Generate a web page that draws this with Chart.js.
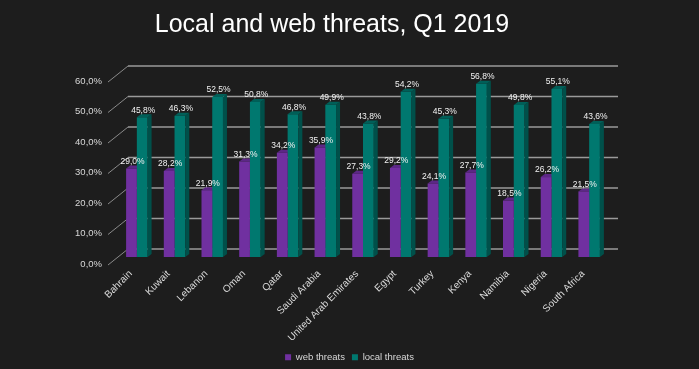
<!DOCTYPE html>
<html>
<head>
<meta charset="utf-8">
<script src="https://cdn.jsdelivr.net/npm/chart.js@4"></script>
<style>
  html,body{margin:0;padding:0;background:#1d1d1d;}
  #wrap{width:699px;height:369px;position:relative;}
</style>
</head>
<body>
<div id="wrap"><canvas id="c"></canvas></div>
<script>
// ── data ──
const countries = ['Bahrain','Kuwait','Lebanon','Oman','Qatar','Saudi Arabia','United Arab Emirates',
                   'Egypt','Turkey','Kenya','Namibia','Nigeria','South Africa'];
const webThreats   = [29.0, 28.2, 21.9, 31.3, 34.2, 35.9, 27.3, 29.2, 24.1, 27.7, 18.5, 26.2, 21.5];
const localThreats = [45.8, 46.3, 52.5, 50.8, 46.8, 49.9, 43.8, 54.2, 45.3, 56.8, 49.8, 55.1, 43.6];
const yMin = 0, yMax = 60, yStep = 10;
const titleText = 'Local and web threats, Q1 2019';

const pct = v => v.toFixed(1).replace('.', ',') + '%';

// 3D depth of bars and of the back wall
const DX = 4, DY = 3;          // bar side / top
const WX = 10, WY = 8;         // wall offset from the bar plane

function drawExtras(chart, i){
  const ctx = chart.ctx, ds = chart.data.datasets[i];
  ctx.save();
  chart.getDatasetMeta(i).data.forEach(bar=>{
    const {x,y,width,base} = bar.getProps(['x','y','width','base'],true);
    const l = x-width/2, r = x+width/2;
    ctx.fillStyle = ds.sideColor;
    ctx.beginPath();
    ctx.moveTo(r,y); ctx.lineTo(r+DX,y-DY); ctx.lineTo(r+DX,base-DY); ctx.lineTo(r,base);
    ctx.closePath(); ctx.fill();
    ctx.fillStyle = ds.topColor;
    ctx.beginPath();
    ctx.moveTo(l,y); ctx.lineTo(l+DX,y-DY); ctx.lineTo(r+DX,y-DY); ctx.lineTo(r,y);
    ctx.closePath(); ctx.fill();
  });
  ctx.restore();
}

const threeD = {
  id:'threeD',
  beforeDatasetsDraw(chart){
    const ctx = chart.ctx, ys = chart.scales.y;
    const {left,right} = chart.chartArea;
    ctx.save();
    for(let v=yMin; v<=yMax; v+=yStep){
      const y = ys.getPixelForValue(v);
      // back wall line
      ctx.strokeStyle='#9a9a9a'; ctx.lineWidth=1.5;
      ctx.beginPath(); ctx.moveTo(left+WX, y-WY); ctx.lineTo(right+WX, y-WY); ctx.stroke();
      // side wall diagonal
      ctx.strokeStyle='#8a8a8a'; ctx.lineWidth=1;
      ctx.beginPath(); ctx.moveTo(left-WX, y+WY); ctx.lineTo(left+WX, y-WY); ctx.stroke();
    }
    ctx.restore();
    // web threats side/top go behind the local threats fronts
    drawExtras(chart, 0);
  },
  afterDatasetsDraw(chart){
    drawExtras(chart, 1);
    const ctx = chart.ctx;
    ctx.save();
    ctx.font = '8.5px "Liberation Sans", Arial, sans-serif';
    ctx.textAlign='center'; ctx.textBaseline='middle';
    ctx.fillStyle='#f2f2f2';
    chart.data.datasets.forEach((ds,i)=>{
      chart.getDatasetMeta(i).data.forEach((bar,j)=>{
        const {x,y} = bar.getProps(['x','y'],true);
        ctx.fillText(pct(ds.data[j]), x+1, y-7);
      });
    });
    ctx.restore();
  },
  afterDraw(chart){
    const ctx = chart.ctx;
    ctx.save();
    ctx.font = '25px "Liberation Sans", Arial, sans-serif';
    ctx.fillStyle='#ffffff'; ctx.textAlign='center'; ctx.textBaseline='alphabetic';
    ctx.fillText(titleText, 332, 32);
    ctx.restore();
  }
};

new Chart(document.getElementById('c'), {
  type:'bar',
  plugins:[threeD],
  data:{
    labels:countries,
    datasets:[
      {label:'web threats', data:webThreats, backgroundColor:'#7030a0',
       sideColor:'#4e1f72', topColor:'#5c2786'},
      {label:'local threats', data:localThreats, backgroundColor:'#00786f',
       sideColor:'#00504a', topColor:'#005f58'}
    ]
  },
  options:{
    responsive:true, maintainAspectRatio:false, animation:false,
    layout:{padding:{top:74, right:0, left:0, bottom:-3}},
    datasets:{bar:{categoryPercentage:0.57, barPercentage:1, borderWidth:0}},
    scales:{
      x:{grid:{display:false, drawTicks:false}, border:{display:false},
         ticks:{color:'#d9d9d9', font:{size:10, family:'"Liberation Sans", Arial, sans-serif'},
                minRotation:45, maxRotation:45, autoSkip:false, labelOffset:-6, padding:11},
         afterFit(s){ s.height = 88.5; }},
      y:{min:yMin, max:yMax, grid:{display:false, drawTicks:false}, border:{display:false},
         ticks:{stepSize:yStep, color:'#d9d9d9', padding:16, labelOffset:7,
                font:{size:9.5, family:'"Liberation Sans", Arial, sans-serif'},
                callback:v=>pct(v)},
         afterFit(s){ s.width = 118; }},
      // empty right axis: keeps the plot narrow while the legend spans the full width
      yR:{position:'right', grid:{display:false, drawTicks:false}, border:{display:false},
          ticks:{display:false}, afterFit(s){ s.width = 91; }}
    },
    plugins:{
      legend:{position:'bottom',
        labels:{color:'#d9d9d9', boxWidth:6, boxHeight:6, padding:7,
                font:{size:9.5, family:'"Liberation Sans", Arial, sans-serif'}}},
      tooltip:{enabled:false}
    }
  }
});
</script>
</body>
</html>
